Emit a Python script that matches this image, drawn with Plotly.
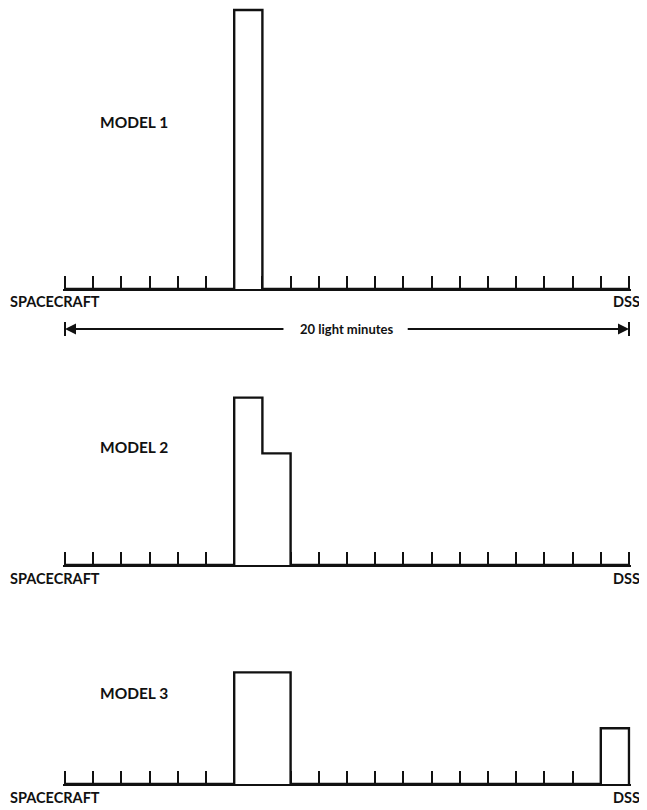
import plotly.graph_objects as go

# one bin per light minute, spacecraft (0) to DSS (20)
n_bins = 20
model_names = ["MODEL 1", "MODEL 2", "MODEL 3"]
model1_bins = [6]
model1_vals = [1.0]
model2_bins = [6, 7]
model2_vals = [0.6, 0.4]
model3_bins = [6, 7, 19]
model3_vals = [0.4, 0.4, 0.2]
left_label = "SPACECRAFT"
right_label = "DSS"
span_label = "20 light minutes"

# the page body adds an 8px margin, so the figure is drawn 8px smaller
# and every pixel position below is measured from the figure's own corner
OFF = 8
W, H = 647 - OFF, 810 - OFF
x_left, x_right = 65 - OFF, 629 - OFF   # pixel ends of the axis
pad = 0.06                              # a little room so the end ticks draw
px_per_x = (x_right - x_left) / n_bins
px_per_unit = 279                       # vertical pixels for a value of 1.0
baselines = [289 - OFF, 565 - OFF, 784 - OFF]
label_y = [122 - OFF, 447 - OFF, 693 - OFF]
ink = "#111111"
font = dict(family="Lato, 'Open Sans', sans-serif", size=14.5, color=ink, weight="bold")


def histogram(bins, vals):
    full = [0.0] * n_bins
    for b, v in zip(bins, vals):
        full[b] = v
    return full


models = [histogram(model1_bins, model1_vals),
          histogram(model2_bins, model2_vals),
          histogram(model3_bins, model3_vals)]

x_dom = [(x_left - pad * px_per_x) / W, (x_right + pad * px_per_x) / W]

fig = go.Figure()
for i, vals in enumerate(models):
    k = "" if i == 0 else str(i + 1)
    xs = list(range(n_bins + 1)) + [n_bins]
    ys = vals + [vals[-1], 0]
    fig.add_trace(go.Scatter(x=xs, y=ys, mode="lines", line_shape="hv",
                             line=dict(color=ink, width=2.4),
                             xaxis="x" + k, yaxis="y" + k,
                             showlegend=False, hoverinfo="skip"))

    base = baselines[i]
    top_px = max(0, base - (max(vals) + 0.03) * px_per_unit)
    top = (base - top_px) / px_per_unit
    # ticks hidden where they would fall inside a filled bar
    ticks = [t for t in range(n_bins + 1)
             if not (0 < t < n_bins and vals[t - 1] > 0 and vals[t] > 0)]
    fig.layout["xaxis" + k] = dict(
        domain=x_dom, range=[-pad, n_bins + pad], anchor="y" + k,
        showgrid=False, zeroline=False, showticklabels=False,
        showline=True, linecolor=ink, linewidth=1.5,
        ticks="inside", tickvals=ticks, ticklen=13, tickwidth=2, tickcolor=ink)
    fig.layout["yaxis" + k] = dict(
        domain=[1 - base / H, 1 - top_px / H],
        range=[0, top], anchor="x" + k, visible=False, showgrid=False)

    fig.add_annotation(text=model_names[i], xref="paper", yref="paper",
                       x=(98 - OFF) / W, y=1 - label_y[i] / H,
                       xanchor="left", yanchor="middle",
                       showarrow=False, font=dict(font, size=15.5))
    fig.add_annotation(text=left_label, xref="paper", yref="paper",
                       x=(8 - OFF) / W, y=1 - (base + 13) / H,
                       xanchor="left", yanchor="middle",
                       showarrow=False, font=font)
    fig.add_annotation(text=right_label, xref="paper", yref="paper",
                       x=(642 - OFF) / W, y=1 - (base + 13) / H,
                       xanchor="right", yanchor="middle",
                       showarrow=False, font=font)

# span arrow below model 1
arrow_y = 1 - (329 - OFF) / H
fig.add_annotation(text=span_label, xref="x", yref="paper", x=n_bins / 2, y=arrow_y,
                   xanchor="center", yanchor="middle",
                   showarrow=False, font=dict(font, size=13))
for head, tail in [(0, 7.8), (n_bins, 12.1)]:
    fig.add_annotation(text="", xref="x", yref="paper", x=head, y=arrow_y,
                       axref="x", ayref="pixel", ax=tail, ay=0,
                       showarrow=True, arrowhead=2, arrowsize=1.1, arrowwidth=2,
                       arrowcolor=ink)
    fig.add_shape(type="line", xref="x", yref="paper", x0=head, x1=head,
                  y0=arrow_y - 7 / H, y1=arrow_y + 7 / H,
                  line=dict(color=ink, width=2))

fig.update_layout(width=W, height=H, margin=dict(l=0, r=0, t=0, b=0),
                  paper_bgcolor="white", plot_bgcolor="white")
fig.write_html("out.html")
